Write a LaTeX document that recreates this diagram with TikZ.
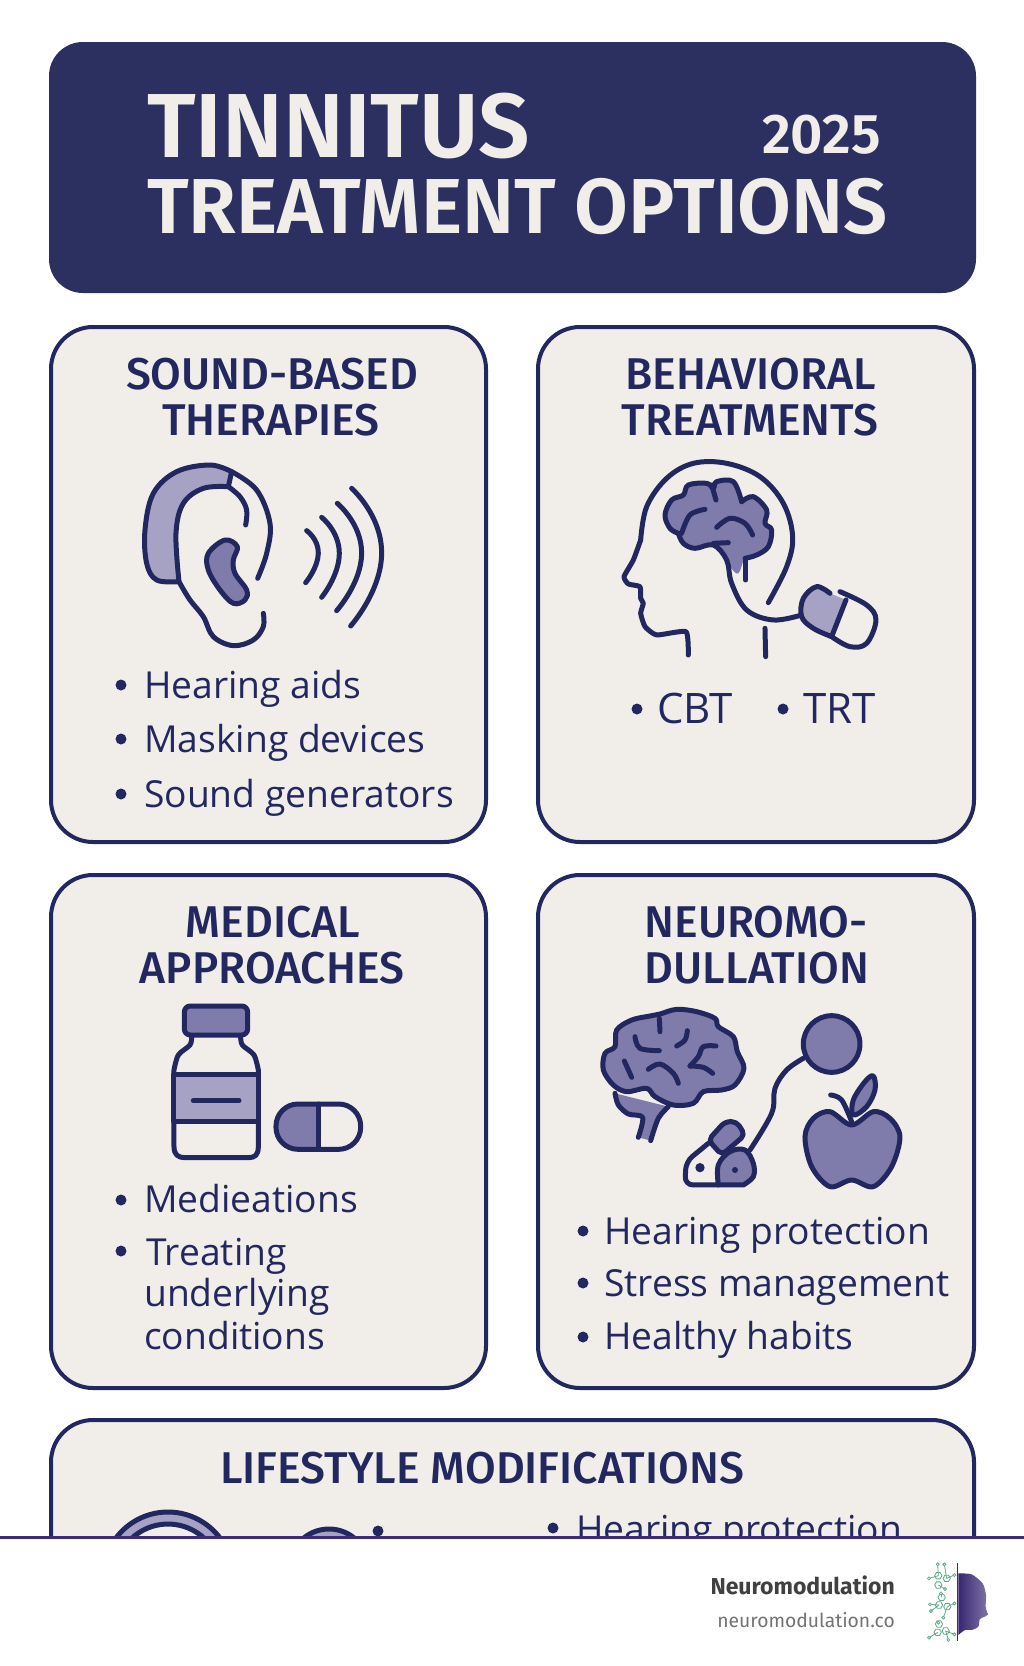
\documentclass[tikz,border=0pt]{standalone}
\usepackage{fontspec}
\usepackage{xcolor}
\setmainfont{Open Sans}
\newfontfamily\headfont{Fira Sans Medium}
\newfontfamily\bannerfont{Fira Sans SemiBold}
\newfontfamily\brandfont{Fira Sans}
\usetikzlibrary{positioning}
\definecolor{navy}{HTML}{23275F}
\definecolor{bannerbg}{HTML}{2C3060}
\definecolor{cardbg}{HTML}{F1EEEA}
\definecolor{midfill}{HTML}{7F7BAB}
\definecolor{lightfill}{HTML}{A5A2C3}
\definecolor{footline}{HTML}{3D2A7C}
\definecolor{molgreen}{HTML}{5FA98A}
\tikzset{
  cardbox/.style={draw=navy,line width=4pt,fill=cardbg,rounded corners=42pt},
  headtext/.style={font=\headfont\fontsize{44.5}{44.5}\selectfont,text=navy,anchor=base,inner sep=0pt},
  itemtext/.style={font=\fontsize{37.2}{37.2}\selectfont,text=navy,anchor=base west,inner sep=0pt},
  bigitem/.style={itemtext,font=\fontsize{42}{42}\selectfont},
  itemdot/.style={circle,fill=navy,inner sep=0pt,minimum size=11pt},
  icon/.style={draw=navy,line width=5pt,line cap=round,line join=round},
  zoomed/.style={x=0.3333pt,y=-0.3333pt},
}
\begin{document}
\begin{tikzpicture}[x=1pt,y=-1pt]
    \useasboundingbox (0,0) rectangle (1024,1666);
    \fill[white] (0,0) rectangle (1024,1666);

    % banner
    \fill[bannerbg,rounded corners=34pt] (49,42) rectangle (976,293);
    \node[font=\bannerfont\fontsize{91}{91}\selectfont,text=cardbg,anchor=base west,inner sep=0pt] (title1) at (147,157) {TINNITUS};
    \node[font=\bannerfont\fontsize{78}{78}\selectfont,text=cardbg,anchor=base west,inner sep=0pt] (title2) at (147,233) {TREATMENT OPTIONS};
    \node[font=\bannerfont\fontsize{56}{56}\selectfont,text=cardbg,anchor=base west,inner sep=0pt] (year) at (762,153) {2025};

    % cards
    \draw[cardbox] (51,327) rectangle (486,842);
    \draw[cardbox] (538,327) rectangle (974,842);
    \draw[cardbox] (51,875) rectangle (486,1388);
    \draw[cardbox] (538,875) rectangle (974,1388);
    \draw[cardbox] (51,1420) rectangle (974,1700);

    % card titles
    \node[headtext] (h1a) at (272,389) {SOUND-BASED};
    \node[headtext] (h1b) at (271,435) {THERAPIES};
    \node[headtext] (h2a) at (751,389) {BEHAVIORAL};
    \node[headtext] (h2b) at (750,435) {TREATMENTS};
    \node[headtext] (h3a) at (273,937) {MEDICAL};
    \node[headtext] (h3b) at (272,983) {APPROACHES};
    \node[headtext] (h4a) at (756,937) {NEUROMO-};
    \node[headtext] (h4b) at (757,983) {DULLATION};
    \node[headtext] (h5) at (482,1483) {LIFESTYLE MODIFICATIONS};

    % lists
    \node[itemdot] (d1) at (121,685) {};
    \node[itemtext] (t1) at (144,698) {Hearing aids};
    \node[itemdot] (d2) at (121,739) {};
    \node[itemtext] (t2) at (144,752) {Masking devices};
    \node[itemdot] (d3) at (121,794) {};
    \node[itemtext] (t3) at (144,807) {Sound generators};
    \node[itemdot] (d4) at (637,709) {};
    \node[bigitem] (t4) at (657,723) {CBT};
    \node[itemdot] (d5) at (783,709) {};
    \node[bigitem] (t5) at (803,723) {TRT};
    \node[itemdot] (d6) at (121,1200) {};
    \node[itemtext] (t6) at (144,1212) {Medieations};
    \node[itemdot] (d7) at (121,1251) {};
    \node[itemtext] (t7) at (146,1265) {Treating};
    \node[itemtext] (t8) at (144,1306) {underlying};
    \node[itemtext] (t9) at (144,1349) {conditions};
    \node[itemdot] (d8) at (583,1231) {};
    \node[itemtext] (t10) at (604,1244) {Hearing protection};
    \node[itemdot] (d9) at (583,1283) {};
    \node[itemtext] (t11) at (604,1296) {Stress management};
    \node[itemdot] (d10) at (583,1337) {};
    \node[itemtext] (t12) at (604,1349) {Healthy habits};
    \node[itemdot] (d11) at (553,1528) {};
    \node[itemtext] (t13) at (576,1542) {Hearing protection};

    % ear
    \begin{scope}[shift={(100,440)},zoomed]
        \filldraw[icon,fill=lightfill] plot[smooth,tension=.6] coordinates {(237,425) (170,420) (140,370) (135,270) (160,160) (230,95) (330,75) (395,95)} -- plot[smooth,tension=.6] coordinates {(385,140) (310,145) (250,190) (228,280) (237,425)} -- cycle;
        \draw[icon] plot[smooth,tension=.6] coordinates {(395,95) (470,150) (510,250) (500,340) (473,415)};
        \draw[icon] plot[smooth,tension=.6] coordinates {(385,140) (420,170) (440,210) (437,255)};
        \draw[icon] plot[smooth,tension=.6] coordinates {(237,425) (270,480) (310,530) (340,590) (400,617) (460,600) (490,560) (490,520)};
        \draw[icon,fill=midfill] plot[smooth cycle,tension=.6] coordinates {(375,300) (412,320) (400,360) (405,400) (440,450) (435,480) (400,490) (360,450) (325,390) (325,340)};
        \draw[icon] plot[smooth,tension=1] coordinates {(620,272) (655,340) (617,428)};
        \draw[icon] plot[smooth,tension=1] coordinates {(665,232) (718,340) (665,472)};
        \draw[icon] plot[smooth,tension=1] coordinates {(712,190) (785,340) (710,512)};
        \draw[icon] plot[smooth,tension=1] coordinates {(755,145) (845,340) (752,558)};
    \end{scope}

    % head, brain and capsule
    \begin{scope}[shift={(600,440)},zoomed]
        \draw[icon] plot[smooth,tension=.6] coordinates {(505,488) (560,380) (578,290) (550,190) (480,110) (380,70) (280,70) (200,115) (140,200) (122,300)};
        \draw[icon] plot[smooth,tension=.3] coordinates {(122,300) (100,360) (72,410) (85,432) (120,440) (122,475) (130,490) (122,520) (135,560) (170,585) (258,575) (265,645)};
        \draw[icon] (495,565) -- (497,650);
        \fill[midfill] plot[smooth cycle,tension=.6] coordinates {(195,225) (215,180) (250,165) (265,135) (320,130) (345,150) (350,125) (400,125) (425,175) (460,170) (500,210) (495,250) (515,270) (505,320) (470,345) (435,355) (415,400) (390,380) (340,315) (285,325) (250,310) (235,280) (210,265)};
        \draw[icon] plot[smooth,tension=.6] coordinates {(435,355) (470,345) (505,320) (515,270) (495,250) (500,210) (460,170) (425,185)};
        \draw[icon] plot[smooth,tension=.6] coordinates {(425,185) (400,125) (350,125) (340,145) (320,130) (265,135) (250,165) (215,180) (195,225) (210,265) (235,280)};
        \draw[icon] plot[smooth,tension=.6] coordinates {(235,280) (250,310) (285,325) (340,315) (380,360) (395,430) (440,510) (520,540) (605,525)};
        \draw[icon] plot[smooth,tension=.6] coordinates {(335,135) (348,180)};
        \draw[icon] plot[smooth,tension=.6] coordinates {(315,208) (270,225) (245,280)};
        \draw[icon] plot[smooth,tension=.6] coordinates {(350,262) (390,235) (435,250) (458,285)};
        \draw[icon] (340,310) -- (385,308);
        \draw[icon] (437,360) -- (437,420);
        \fill[lightfill] plot[smooth,tension=.6] coordinates {(690,460) (650,440) (610,475) (605,530) (640,565) (690,590)} -- (738,480) -- cycle;
        \draw[icon] plot[smooth,tension=.6] coordinates {(690,460) (650,440) (610,475) (605,530) (640,565) (695,590)};
        \draw[icon] (738,480) -- (695,590);
        \draw[icon] plot[smooth,tension=.6] coordinates {(720,455) (800,495) (828,540) (800,610) (750,620) (695,590)};
    \end{scope}

    % bottle and pill
    \begin{scope}[shift={(150,990)},zoomed]
        \draw[icon] plot[smooth,tension=.5] coordinates {(125,140) (120,165) (85,195) (72,240)} -- (72,470) .. controls (72,495) and (85,503) .. (105,503) -- (295,503) .. controls (315,503) and (325,495) .. (325,470) -- plot[smooth,tension=.5] coordinates {(325,240) (312,195) (277,165) (272,140)};
        \draw[icon,fill=midfill,rounded corners=6pt] (103,48) rectangle (293,135);
        \draw[icon,fill=lightfill] (72,253) rectangle (325,395);
        \draw[icon] (130,332) -- (267,332);
        \fill[midfill] (505,342) -- (446,342) arc[start angle=270,end angle=90,radius=68] -- (505,478) -- cycle;
        \draw[icon,rounded corners=22pt] (378,342) rectangle (632,478);
        \draw[icon] (505,342) -- (505,478);
    \end{scope}

    % brain, capsule, ball and apple
    \begin{scope}[shift={(590,990)},zoomed]
        \fill[midfill] plot[smooth,tension=.5] coordinates {(75,310) (85,345) (115,372) (158,382) (145,442)} -- plot[smooth,tension=.5] coordinates {(182,452) (205,385) (235,350)} -- cycle;
        \draw[icon] plot[smooth,tension=.5] coordinates {(75,310) (85,345) (115,372) (158,382) (145,442)};
        \draw[icon] plot[smooth,tension=.5] coordinates {(182,452) (205,385) (235,350)};
        \draw[icon,fill=midfill] plot[smooth cycle,tension=.55] coordinates {(210,72) (260,58) (320,65) (375,85) (385,110) (430,140) (442,185) (462,235) (435,285) (395,300) (340,305) (310,340) (250,345) (195,320) (170,295) (110,305) (70,285) (40,240) (45,190) (75,170) (80,120) (125,90) (180,78)};
        \draw[icon] (208,85) -- (210,125);
        \draw[icon] plot[smooth,tension=.6] coordinates {(135,140) (150,175) (208,182)};
        \draw[icon] plot[smooth,tension=.6] coordinates {(292,122) (285,150) (260,168)};
        \draw[icon] plot[smooth,tension=.6] coordinates {(378,168) (340,170) (325,200) (300,228)};
        \draw[icon] plot[smooth,tension=.6] coordinates {(300,228) (340,232) (368,250)};
        \draw[icon] (103,213) -- (125,262);
        \draw[icon] plot[smooth,tension=.6] coordinates {(175,238) (210,222) (250,250) (265,280)};
        \draw[icon,fill=midfill] (725,162) circle[radius=85];
        \draw[icon] plot[smooth,tension=.6] coordinates {(640,205) (590,240) (555,295) (545,370) (480,480)};
        \draw[icon,fill=midfill,rounded corners=5pt] (355,450) -- (405,395) -- (440,395) -- (465,435) -- (395,495) -- cycle;
        \draw[icon,rounded corners=8pt] (355,460) -- (288,515) -- (285,585) -- (385,585);
        \draw[icon,fill=midfill] plot[smooth,tension=.6] coordinates {(385,585) (385,525) (420,485) (465,480) (490,520) (490,560) (460,585)} -- cycle;
        \fill[navy] (330,533) circle[radius=14];
        \fill[navy] (435,540) circle[radius=9];
        \draw[icon,fill=midfill] plot[smooth cycle,tension=.55] coordinates {(785,405) (720,365) (670,385) (645,440) (665,530) (720,590) (785,570) (850,590) (905,530) (930,440) (900,385) (850,365)};
        \draw[icon,fill=midfill] plot[smooth cycle,tension=.6] coordinates {(790,375) (790,330) (825,275) (850,258) (855,300) (830,350)};
        \draw[icon] plot[smooth,tension=.6] coordinates {(722,315) (755,330) (785,395)};
    \end{scope}

    % cut off icons of the last card
    \draw[navy,line width=5pt,fill=lightfill] (168,1577) circle[radius=65];
    \draw[navy,line width=5pt,fill=cardbg] (168,1577) circle[radius=53];
    \draw[navy,line width=5pt,fill=lightfill] (329,1569) circle[radius=40];
    \fill[navy] (378,1531) circle[radius=5.5];

    % footer
    \fill[white] (0,1537) rectangle (1024,1666);
    \draw[footline,line width=3pt] (0,1537) -- (1024,1537);
    \node[font=\brandfont\fontsize{23}{23}\selectfont\bfseries,text=black!75,anchor=base east,inner sep=0pt] (brand) at (895,1594) {Neuromodulation};
    \node[font=\brandfont\fontsize{19.3}{19.3}\selectfont,text=black!55,anchor=base east,inner sep=0pt] (site) at (895,1627) {neuromodulation.co};

    % logo
    \begin{scope}[shift={(915,1555)},zoomed]
        \foreach \rx/\ry in {70/62,95/70,70/90,72/150,97/155,80/127,68/232,92/228,72/207}
            \draw[molgreen,line width=.8pt] (\rx+11,\ry) -- (\rx+5.5,\ry+9.5) -- (\rx-5.5,\ry+9.5) -- (\rx-11,\ry) -- (\rx-5.5,\ry-9.5) -- (\rx+5.5,\ry-9.5) -- cycle;
        \foreach \rx/\ry/\ax/\ay in {70/62/68/28,95/70/88/28,70/62/42/70,95/70/118/60,70/90/90/102,80/127/78/115,72/150/45/148,72/150/48/168,97/155/118/145,97/155/85/188,72/207/70/203,68/232/42/248,92/228/118/238,92/228/100/255}{
            \draw[molgreen,line width=.8pt] (\rx,\ry) -- (\ax,\ay);
            \draw[molgreen,line width=.8pt,fill=white] (\ax,\ay) circle[radius=4.5];
        }
        \shade[left color=footline!90!black,right color=footline!65!white] plot[smooth,tension=.4] coordinates {(130,55) (170,58) (203,85) (213,120) (212,155) (217,180) (195,192) (190,215) (170,225) (150,225) (130,240)} -- cycle;
        \draw[footline,line width=1.5pt] (128,25) -- (128,258);
    \end{scope}
\end{tikzpicture}
\end{document}
